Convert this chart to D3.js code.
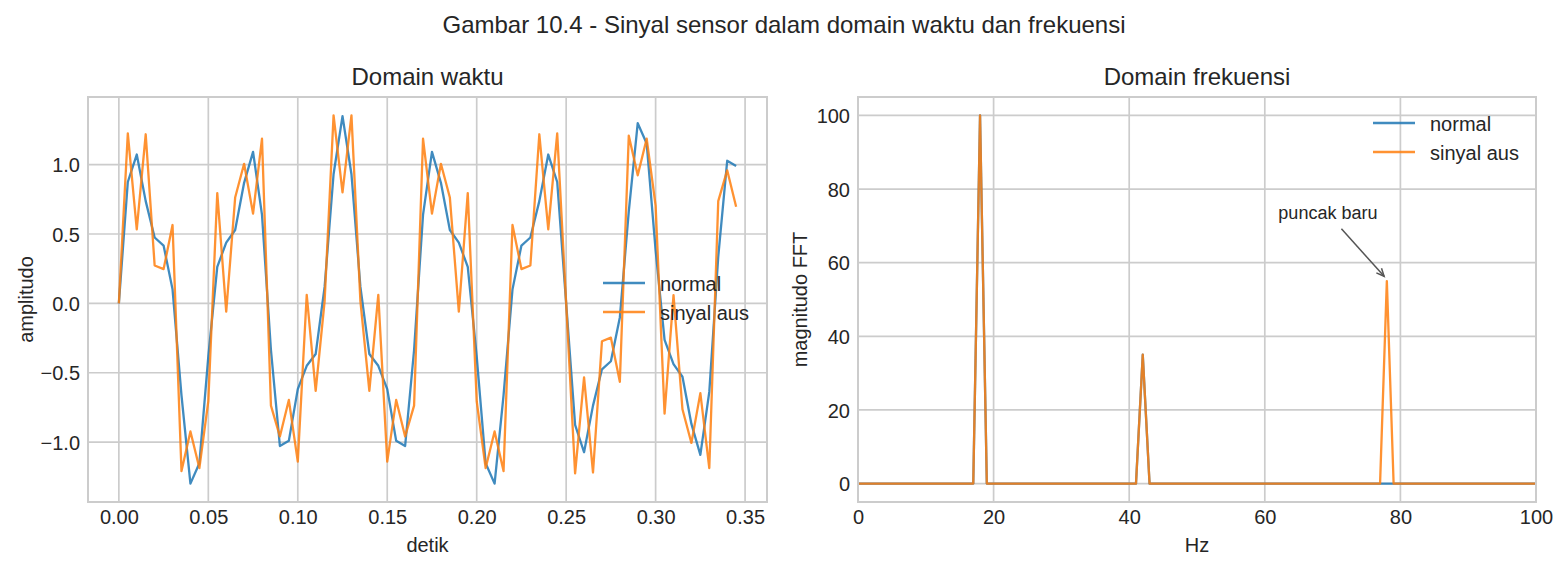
<!DOCTYPE html>
<html>
<head>
<meta charset="utf-8">
<script src="https://cdn.jsdelivr.net/npm/d3@7"></script>
<style>
  body { margin: 0; background: #fff; }
  svg text { font-family: "Liberation Sans", Arial, sans-serif; fill: #262626; }
</style>
</head>
<body>
<div id="chart"></div>
<script>
// time domain samples (s)
const timeSec = [
    0, 0.005, 0.01, 0.015, 0.02, 0.025, 0.03, 0.035, 0.04, 0.045,
    0.05, 0.055, 0.06, 0.065, 0.07, 0.075, 0.08, 0.085, 0.09, 0.095,
    0.1, 0.105, 0.11, 0.115, 0.12, 0.125, 0.13, 0.135, 0.14, 0.145,
    0.15, 0.155, 0.16, 0.165, 0.17, 0.175, 0.18, 0.185, 0.19, 0.195,
    0.2, 0.205, 0.21, 0.215, 0.22, 0.225, 0.23, 0.235, 0.24, 0.245,
    0.25, 0.255, 0.26, 0.265, 0.27, 0.275, 0.28, 0.285, 0.29, 0.295,
    0.3, 0.305, 0.31, 0.315, 0.32, 0.325, 0.33, 0.335, 0.34, 0.345
];
const ampNormal = [
    0, 0.875, 1.073, 0.737, 0.475, 0.417, 0.101, -0.663, -1.299, -1.153,
    -0.382, 0.263, 0.438, 0.529, 0.869, 1.092, 0.638, -0.336, -1.028, -0.991,
    -0.618, -0.450, -0.365, 0.119, 0.931, 1.350, 0.931, 0.119, -0.365, -0.450,
    -0.618, -0.991, -1.028, -0.336, 0.638, 1.092, 0.869, 0.529, 0.438, 0.263,
    -0.382, -1.153, -1.299, -0.663, 0.101, 0.417, 0.475, 0.737, 1.073, 0.875,
    0, -0.875, -1.073, -0.737, -0.475, -0.417, -0.101, 0.663, 1.299, 1.153,
    0.382, -0.263, -0.438, -0.529, -0.869, -1.092, -0.638, 0.336, 1.028, 0.991
];
const ampWorn = [
    0, 1.225, 0.533, 1.219, 0.273, 0.247, 0.565, -1.209, -0.923, -1.187,
    -0.705, 0.795, -0.060, 0.763, 1.006, 0.647, 1.187, -0.737, -0.959, -0.696,
    -1.141, 0.062, -0.630, 0.016, 1.355, 0.800, 1.355, 0.016, -0.630, 0.062,
    -1.141, -0.696, -0.959, -0.737, 1.187, 0.647, 1.006, 0.763, -0.060, 0.795,
    -0.705, -1.187, -0.923, -1.209, 0.565, 0.247, 0.273, 1.219, 0.533, 1.225,
    0, -1.225, -0.533, -1.219, -0.273, -0.247, -0.565, 1.209, 0.923, 1.187,
    0.705, -0.795, 0.060, -0.763, -1.006, -0.647, -1.187, 0.737, 0.959, 0.696
];

// frequency domain (Hz, FFT magnitude)
const freqHz = [
    0, 1, 2, 3, 4, 5, 6, 7, 8, 9,
    10, 11, 12, 13, 14, 15, 16, 17, 18, 19,
    20, 21, 22, 23, 24, 25, 26, 27, 28, 29,
    30, 31, 32, 33, 34, 35, 36, 37, 38, 39,
    40, 41, 42, 43, 44, 45, 46, 47, 48, 49,
    50, 51, 52, 53, 54, 55, 56, 57, 58, 59,
    60, 61, 62, 63, 64, 65, 66, 67, 68, 69,
    70, 71, 72, 73, 74, 75, 76, 77, 78, 79,
    80, 81, 82, 83, 84, 85, 86, 87, 88, 89,
    90, 91, 92, 93, 94, 95, 96, 97, 98, 99,
    100
];
const fftNormal = [
    0, 0, 0, 0, 0, 0, 0, 0, 0, 0,
    0, 0, 0, 0, 0, 0, 0, 0, 100, 0,
    0, 0, 0, 0, 0, 0, 0, 0, 0, 0,
    0, 0, 0, 0, 0, 0, 0, 0, 0, 0,
    0, 0, 35, 0, 0, 0, 0, 0, 0, 0,
    0, 0, 0, 0, 0, 0, 0, 0, 0, 0,
    0, 0, 0, 0, 0, 0, 0, 0, 0, 0,
    0, 0, 0, 0, 0, 0, 0, 0, 0, 0,
    0, 0, 0, 0, 0, 0, 0, 0, 0, 0,
    0, 0, 0, 0, 0, 0, 0, 0, 0, 0,
    0
];
const fftWorn = [
    0, 0, 0, 0, 0, 0, 0, 0, 0, 0,
    0, 0, 0, 0, 0, 0, 0, 0, 100, 0,
    0, 0, 0, 0, 0, 0, 0, 0, 0, 0,
    0, 0, 0, 0, 0, 0, 0, 0, 0, 0,
    0, 0, 35, 0, 0, 0, 0, 0, 0, 0,
    0, 0, 0, 0, 0, 0, 0, 0, 0, 0,
    0, 0, 0, 0, 0, 0, 0, 0, 0, 0,
    0, 0, 0, 0, 0, 0, 0, 0, 55, 0,
    0, 0, 0, 0, 0, 0, 0, 0, 0, 0,
    0, 0, 0, 0, 0, 0, 0, 0, 0, 0,
    0
];

const timeTicks = [0, 0.05, 0.1, 0.15, 0.2, 0.25, 0.3, 0.35];
const ampTicks = [-1, -0.5, 0, 0.5, 1];
const hzTicks = [0, 20, 40, 60, 80, 100];
const magTicks = [0, 20, 40, 60, 80, 100];

const seriesNames = ["normal", "sinyal aus"];
const seriesColors = ["#1f77b4", "#ff7f0e"];

// layout
const width = 1568;
const height = 569;
const panelTop = 97;
const panelBottom = 502;
const gridColor = "#cccccc";
const textColor = "#262626";

const svg = d3.select("#chart")
    .append("svg")
    .attr("width", width)
    .attr("height", height)
    .attr("viewBox", [0, 0, width, height])
    .style("background", "#fff");

svg.append("text")
    .attr("x", width / 2)
    .attr("y", 32.5)
    .attr("text-anchor", "middle")
    .attr("font-size", 24)
    .text("Gambar 10.4 - Sinyal sensor dalam domain waktu dan frekuensi");

function padded(ext) {
    const pad = (ext[1] - ext[0]) * 0.05;
    return [ext[0] - pad, ext[1] + pad];
}

function drawPanel(opt) {
    const x = d3.scaleLinear().domain(opt.xDomain).range([opt.x0, opt.x1]);
    const y = d3.scaleLinear().domain(opt.yDomain).range([panelBottom, panelTop]);

    const g = svg.append("g");

    g.append("clipPath").attr("id", opt.id + "-clip")
        .append("rect")
        .attr("x", opt.x0).attr("y", panelTop)
        .attr("width", opt.x1 - opt.x0).attr("height", panelBottom - panelTop);

    // grid
    g.append("g").selectAll("line")
        .data(opt.xTicks)
        .join("line")
        .attr("x1", d => x(d)).attr("x2", d => x(d))
        .attr("y1", panelTop).attr("y2", panelBottom)
        .attr("stroke", gridColor).attr("stroke-width", 1.7);
    g.append("g").selectAll("line")
        .data(opt.yTicks)
        .join("line")
        .attr("x1", opt.x0).attr("x2", opt.x1)
        .attr("y1", d => y(d)).attr("y2", d => y(d))
        .attr("stroke", gridColor).attr("stroke-width", 1.7);

    // axes (labels only, seaborn whitegrid has no tick marks)
    const xAxis = g.append("g")
        .attr("transform", `translate(0,${panelBottom})`)
        .call(d3.axisBottom(x).tickValues(opt.xTicks).tickFormat(opt.xFormat)
            .tickSize(0).tickPadding(7.8));
    const yAxis = g.append("g")
        .attr("transform", `translate(${opt.x0},0)`)
        .call(d3.axisLeft(y).tickValues(opt.yTicks).tickFormat(opt.yFormat)
            .tickSize(0).tickPadding(8));
    [xAxis, yAxis].forEach(axis => {
        axis.select(".domain").remove();
        axis.attr("font-family", null).attr("font-size", null);
        axis.selectAll(".tick text")
            .attr("font-size", 20)
            .attr("fill", textColor);
    });
    yAxis.selectAll(".tick text").attr("dy", "0.36em");

    // series
    const plot = g.append("g").attr("clip-path", `url(#${opt.id}-clip)`);
    opt.series.forEach((vals, i) => {
        const line = d3.line()
            .x((d, j) => x(opt.xs[j]))
            .y(d => y(d));
        plot.append("path")
            .datum(vals)
            .attr("fill", "none")
            .attr("stroke", seriesColors[i])
            .attr("stroke-opacity", 0.85)
            .attr("stroke-width", 2.3)
            .attr("stroke-linejoin", "round")
            .attr("d", line);
    });

    // spines
    g.append("rect")
        .attr("x", opt.x0).attr("y", panelTop)
        .attr("width", opt.x1 - opt.x0).attr("height", panelBottom - panelTop)
        .attr("fill", "none")
        .attr("stroke", gridColor)
        .attr("stroke-width", 2);

    // title and labels
    const cx = (opt.x0 + opt.x1) / 2;
    g.append("text")
        .attr("x", cx).attr("y", 85)
        .attr("text-anchor", "middle")
        .attr("font-size", 24)
        .text(opt.title);
    g.append("text")
        .attr("x", cx).attr("y", 551.5)
        .attr("text-anchor", "middle")
        .attr("font-size", 20)
        .text(opt.xLabel);
    g.append("text")
        .attr("transform", `translate(${opt.yLabelX},${(panelTop + panelBottom) / 2}) rotate(-90)`)
        .attr("text-anchor", "middle")
        .attr("font-size", 20)
        .text(opt.yLabel);

    // legend (no frame)
    const legend = g.append("g")
        .attr("transform", `translate(${opt.x0 + 515},${panelTop + opt.legendTop})`);
    seriesNames.forEach((name, i) => {
        const row = legend.append("g").attr("transform", `translate(0,${i * 29})`);
        row.append("line")
            .attr("x1", 0).attr("x2", 42)
            .attr("stroke", seriesColors[i])
            .attr("stroke-opacity", 0.85)
            .attr("stroke-width", 2.3);
        row.append("text")
            .attr("x", 57).attr("y", 7.5)
            .attr("font-size", 20)
            .text(name);
    });

    return {x, y, g};
}

const left = drawPanel({
    id: "time",
    x0: 88, x1: 767,
    xs: timeSec,
    series: [ampNormal, ampWorn],
    xDomain: padded(d3.extent(timeSec)),
    yDomain: padded(d3.extent(ampNormal.concat(ampWorn))),
    xTicks: timeTicks,
    yTicks: ampTicks,
    xFormat: d3.format(".2f"),
    yFormat: d3.format(".1f"),
    title: "Domain waktu",
    xLabel: "detik",
    yLabel: "amplitudo",
    yLabelX: 33,
    legendTop: 186
});

const right = drawPanel({
    id: "freq",
    x0: 858, x1: 1536,
    xs: freqHz,
    series: [fftNormal, fftWorn],
    xDomain: [0, 100],
    yDomain: padded(d3.extent(fftNormal.concat(fftWorn))),
    xTicks: hzTicks,
    yTicks: magTicks,
    xFormat: d3.format("d"),
    yFormat: d3.format("d"),
    title: "Domain frekuensi",
    xLabel: "Hz",
    yLabel: "magnitudo FFT",
    yLabelX: 807,
    legendTop: 26
});

// annotation for the new peak
const noteText = [62, 72];
const arrowFrom = [71.3, 69.2];
const arrowTo = [77.6, 56.3];

right.g.append("text")
    .attr("x", right.x(noteText[0]))
    .attr("y", right.y(noteText[1]))
    .attr("font-size", 18)
    .text("puncak baru");

const ax0 = right.x(arrowFrom[0]), ay0 = right.y(arrowFrom[1]);
const ax1 = right.x(arrowTo[0]), ay1 = right.y(arrowTo[1]);
const ang = Math.atan2(ay1 - ay0, ax1 - ax0);
const headLen = 8.5, headSpread = 0.42;
right.g.append("line")
    .attr("x1", ax0).attr("y1", ay0)
    .attr("x2", ax1).attr("y2", ay1)
    .attr("stroke", "#555555")
    .attr("stroke-width", 1.5);
right.g.append("path")
    .attr("d", d3.line()([
        [ax1 - headLen * Math.cos(ang - headSpread), ay1 - headLen * Math.sin(ang - headSpread)],
        [ax1, ay1],
        [ax1 - headLen * Math.cos(ang + headSpread), ay1 - headLen * Math.sin(ang + headSpread)]
    ]))
    .attr("fill", "none")
    .attr("stroke", "#555555")
    .attr("stroke-width", 1.5);
</script>
</body>
</html>
